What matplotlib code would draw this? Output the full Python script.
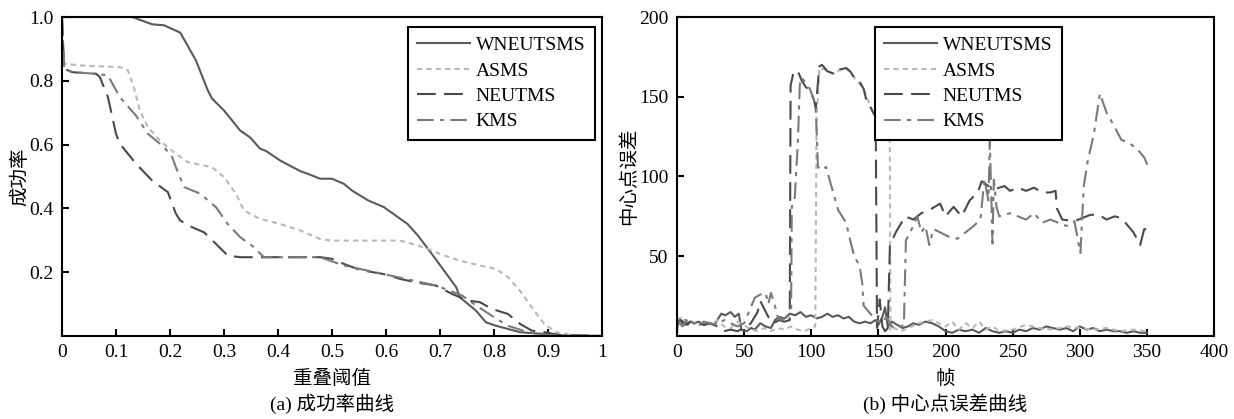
import numpy as np
import matplotlib.pyplot as plt

plt.rcParams['font.family'] = ['Liberation Serif', 'Noto Sans CJK SC']
plt.rcParams['axes.unicode_minus'] = False

# ---- (a) success rate vs overlap threshold ----
thr_w = [0, 0.13, 0.167, 0.189, 0.219, 0.248, 0.27, 0.278, 0.30, 0.33, 0.348, 0.367, 0.378,
         0.404, 0.441, 0.456, 0.478, 0.50, 0.522, 0.537, 0.567, 0.596, 0.64, 0.659, 0.685,
         0.73, 0.737, 0.767, 0.785, 0.804, 0.826, 0.848, 0.878, 0.90, 0.922, 1.0]
sr_w = [1.0, 1.0, 0.977, 0.974, 0.951, 0.864, 0.77, 0.744, 0.707, 0.644, 0.623, 0.587, 0.58,
        0.55, 0.517, 0.508, 0.493, 0.493, 0.477, 0.456, 0.425, 0.404, 0.351, 0.315, 0.257,
        0.153, 0.121, 0.079, 0.043, 0.032, 0.022, 0.012, 0.008, 0.006, 0.001, 0.0]

thr_a = [0.0, 0.007, 0.033, 0.107, 0.122, 0.133, 0.144, 0.159, 0.181, 0.211, 0.233, 0.278,
         0.30, 0.322, 0.337, 0.367, 0.404, 0.441, 0.478, 0.50, 0.626, 0.648, 0.678, 0.70,
         0.737, 0.774, 0.804, 0.826, 0.848, 0.87, 0.893, 0.915, 0.944, 1.0]
sr_a = [0.86, 0.853, 0.848, 0.843, 0.833, 0.78, 0.707, 0.655, 0.613, 0.571, 0.545, 0.529,
        0.498, 0.446, 0.393, 0.367, 0.351, 0.331, 0.304, 0.299, 0.299, 0.289, 0.273, 0.257,
        0.236, 0.221, 0.21, 0.184, 0.142, 0.09, 0.038, 0.012, 0.003, 0.001]

thr_n = [0.0, 0.004, 0.019, 0.063, 0.07, 0.085, 0.10, 0.107, 0.137, 0.167, 0.196, 0.211,
         0.219, 0.241, 0.263, 0.285, 0.307, 0.33, 0.404, 0.478, 0.50, 0.522, 0.552, 0.596,
         0.626, 0.656, 0.693, 0.722, 0.752, 0.774, 0.796, 0.826, 0.848, 0.87, 0.893, 0.922, 1.0]
sr_n = [1.0, 0.838, 0.827, 0.822, 0.812, 0.749, 0.634, 0.603, 0.54, 0.487, 0.451, 0.383,
        0.362, 0.341, 0.325, 0.289, 0.252, 0.247, 0.247, 0.247, 0.242, 0.226, 0.207, 0.194,
        0.179, 0.168, 0.158, 0.132, 0.111, 0.106, 0.085, 0.069, 0.038, 0.017, 0.012, 0.003, 0.0]

thr_k = [0.0, 0.004, 0.019, 0.063, 0.085, 0.107, 0.137, 0.159, 0.189, 0.204, 0.211, 0.226,
         0.256, 0.285, 0.307, 0.33, 0.352, 0.374, 0.404, 0.478, 0.522, 0.596, 0.693, 0.741,
         0.763, 0.80, 0.826, 0.863, 0.90, 1.0]
sr_k = [1.0, 0.838, 0.827, 0.822, 0.817, 0.749, 0.691, 0.634, 0.592, 0.561, 0.529, 0.467,
        0.446, 0.404, 0.351, 0.31, 0.283, 0.247, 0.247, 0.247, 0.221, 0.194, 0.158, 0.127,
        0.10, 0.059, 0.032, 0.012, 0.003, 0.0]

# ---- (b) center location error per frame ----
fr_w = [0, 2, 4, 6, 8, 10, 13, 16, 20, 24, 28, 30, 33, 36, 40, 43, 46, 48, 52, 55, 58, 62, 66,
        70, 73, 76, 80, 84, 88, 92, 96, 100, 104, 108, 112, 116, 120, 124, 128, 132, 136, 140,
        144, 148, 150, 153, 155, 157, 160, 164, 168, 172, 176, 180, 185, 190, 195, 200, 205,
        210, 215, 220, 225, 230, 235, 240, 245, 250, 255, 260, 265, 270, 275, 280, 285, 290,
        295, 300, 305, 310, 315, 320, 325, 330, 335, 340, 345, 350]
err_w = [5, 11, 8, 10, 7, 9, 8, 9, 7, 8, 7, 10, 14, 13, 15, 12, 14, 4, 3, 5, 4, 8, 6,
         5, 10, 12, 11, 14, 13, 15, 12, 13, 11, 12, 14, 12, 13, 11, 12, 9, 8, 9,
         8, 10, 7, 12, 18, 6, 9, 7, 5, 6, 8, 7, 9, 8, 6, 3, 2,
         4, 3, 4, 2, 5, 3, 2, 3, 2, 4, 3, 5, 4, 6, 5, 4, 5,
         3, 6, 4, 5, 3, 4, 3, 3, 2, 3, 2, 2]

fr_a = [0, 3, 6, 10, 15, 20, 25, 30, 35, 40, 45, 50, 55, 60, 65, 70, 75, 80, 85, 90, 95, 100,
        103, 104, 105, 106, 110, 118, 121, 126, 132, 139, 145, 148, 151, 155, 158.5, 159, 162,
        166, 170, 175, 180, 185, 190, 195, 200, 205, 210, 215, 220, 225, 230, 235, 240, 250,
        260, 270, 280, 290, 300, 310, 320, 330, 340, 350]
err_a = [3, 12, 9, 10, 6, 9, 7, 10, 6, 5, 9, 7, 4, 3, 5, 3, 5, 4, 6, 4, 3, 5,
         6, 140, 150, 168, 167, 164, 167, 168, 162, 155, 142, 137, 128, 126, 123, 3, 5,
         3, 4, 6, 8, 9, 10, 8, 6, 9, 4, 8, 5, 9, 4, 6, 3, 4,
         7, 5, 4, 6, 5, 4, 5, 3, 4, 3]

fr_n = [0, 3, 6, 10, 15, 20, 25, 30, 35, 40, 45, 50, 55, 60, 62, 65, 68, 72, 76, 80, 84,
        84.6, 87, 90, 93, 96, 99, 102, 103.4, 106, 108, 112, 118, 121, 126, 129, 132, 135, 139,
        141, 145, 148, 149, 151, 153, 155, 157, 158.6, 163, 170, 176, 182, 188, 196, 200, 206,
        212, 218, 224, 227, 232, 236, 244, 248, 254, 260, 266, 272, 278, 282, 283, 287, 296,
        302, 308, 314, 320, 326, 331, 336, 340, 345, 348, 351]
err_n = [8, 10, 7, 9, 8, 7, 8, 6, 3, 4, 3, 5, 8, 15, 22, 17, 12, 8, 10, 9, 10,
         157, 166, 166, 160, 156, 154, 148, 143, 169, 170, 166, 164, 167, 168, 166, 162, 161, 155,
         148, 142, 137, 5, 23, 6, 3, 5, 57, 65, 75, 73, 77, 79, 83, 75, 81,
         75, 85, 90, 97, 94, 92, 94, 91, 93, 91, 93, 90, 90, 91, 80, 73, 72,
         74, 76, 76, 73, 75, 74, 69, 65, 57, 67, 67]

fr_k = [0, 4, 8, 12, 16, 20, 25, 30, 35, 40, 45, 50, 52, 55, 58, 62, 66, 68, 70, 72, 75, 78,
        82, 85, 85.5, 87.6, 90, 91.5, 93, 96, 99, 102, 103.5, 105, 108, 111, 115, 120, 126, 129,
        132, 136, 138, 139, 144, 148, 152, 156, 160, 165, 169, 170.5, 173, 176, 179, 182, 185,
        188, 191, 196, 203, 209, 215, 221, 226, 229, 232, 233, 235, 236, 238, 240, 248, 254,
        260, 266, 272, 278, 284, 290, 296, 300.5, 303, 306, 310.6, 315, 320, 326, 331, 337,
        343, 348, 351]
err_k = [10, 6, 11, 8, 7, 9, 8, 7, 10, 8, 6, 8, 12, 18, 24, 26, 27, 20, 27, 22, 12, 10,
         12, 15, 81, 85, 121, 158, 162, 158, 155, 148, 140, 106, 104, 106, 94, 79, 71, 60,
         50, 44, 33, 19, 14, 10, 8, 12, 6, 5, 7, 60, 64, 69, 75, 65, 69,
         57, 67, 65, 62, 61, 65, 69, 73, 98, 85, 123, 58, 98, 81, 75, 77, 75,
         73, 77, 71, 73, 71, 69, 72, 52, 94, 110, 127, 152, 140, 131, 123, 121,
         117, 112, 106]

names = ['WNEUTSMS', 'ASMS', 'NEUTMS', 'KMS']
colors = ['#5a5a5a', '#b8b8b8', '#4a4a4a', '#7a7a7a']
styles = ['-', (0, (2.5, 2)), (0, (9, 4)), (0, (8, 3, 2, 3))]

fig = plt.figure(figsize=(12.34, 4.19), dpi=100)
ax1 = fig.add_axes([62 / 1234, 83 / 419, 540 / 1234, 319 / 419])
ax2 = fig.add_axes([677 / 1234, 83 / 419, 537 / 1234, 319 / 419])

left = [(thr_w, sr_w), (thr_a, sr_a), (thr_n, sr_n), (thr_k, sr_k)]
right = [(fr_w, err_w), (fr_a, err_a), (fr_n, err_n), (fr_k, err_k)]

for i in range(4):
    ax1.plot(left[i][0], left[i][1], color=colors[i], linestyle=styles[i], lw=1.5, label=names[i])
    ax2.plot(right[i][0], right[i][1], color=colors[i], linestyle=styles[i], lw=1.5, label=names[i])

ax1.set_xlim(0, 1)
ax1.set_ylim(0, 1)
ax1.set_xticks(np.arange(0, 1.01, 0.1))
ax1.set_xticklabels(['0', '0.1', '0.2', '0.3', '0.4', '0.5', '0.6', '0.7', '0.8', '0.9', '1'])
ax1.set_yticks([0.2, 0.4, 0.6, 0.8, 1.0])
ax1.set_yticklabels(['0.2', '0.4', '0.6', '0.8', '1.0'])

ax2.set_xlim(0, 400)
ax2.set_ylim(0, 200)
ax2.set_xticks(np.arange(0, 401, 50))
ax2.set_yticks([50, 100, 150, 200])

for ax in (ax1, ax2):
    for s in ax.spines.values():
        s.set_linewidth(1.5)
        s.set_color('black')
    ax.tick_params(direction='in', length=5, width=1.5, labelsize=14, pad=6)

ax1.set_xlabel('重叠阈值', fontsize=14, labelpad=6)
ax1.set_ylabel('成功率', fontsize=14, labelpad=0)
ax2.set_xlabel('帧', fontsize=14, labelpad=6)
ax2.set_ylabel('中心点误差', fontsize=14, labelpad=1)

fig.text((62 + 602) / 2 / 1234, 1 - 404 / 419, '(a) 成功率曲线', ha='center', va='center', fontsize=14)
fig.text((677 + 1214) / 2 / 1234, 1 - 404 / 419, '(b) 中心点误差曲线', ha='center', va='center', fontsize=14)

leg_kw = dict(fontsize=14, fancybox=False, framealpha=1, edgecolor='black',
              handlelength=2.7, labelspacing=0.4, borderpad=0.5, handletextpad=0.3,
              borderaxespad=0)
l1 = ax1.legend(loc='upper right', bbox_to_anchor=(0.987, 0.969), **leg_kw)
l2 = ax2.legend(loc='upper right', bbox_to_anchor=(0.717, 0.969), **leg_kw)
for l in (l1, l2):
    l.get_frame().set_linewidth(1.5)

fig.savefig('out.png', dpi=100)
